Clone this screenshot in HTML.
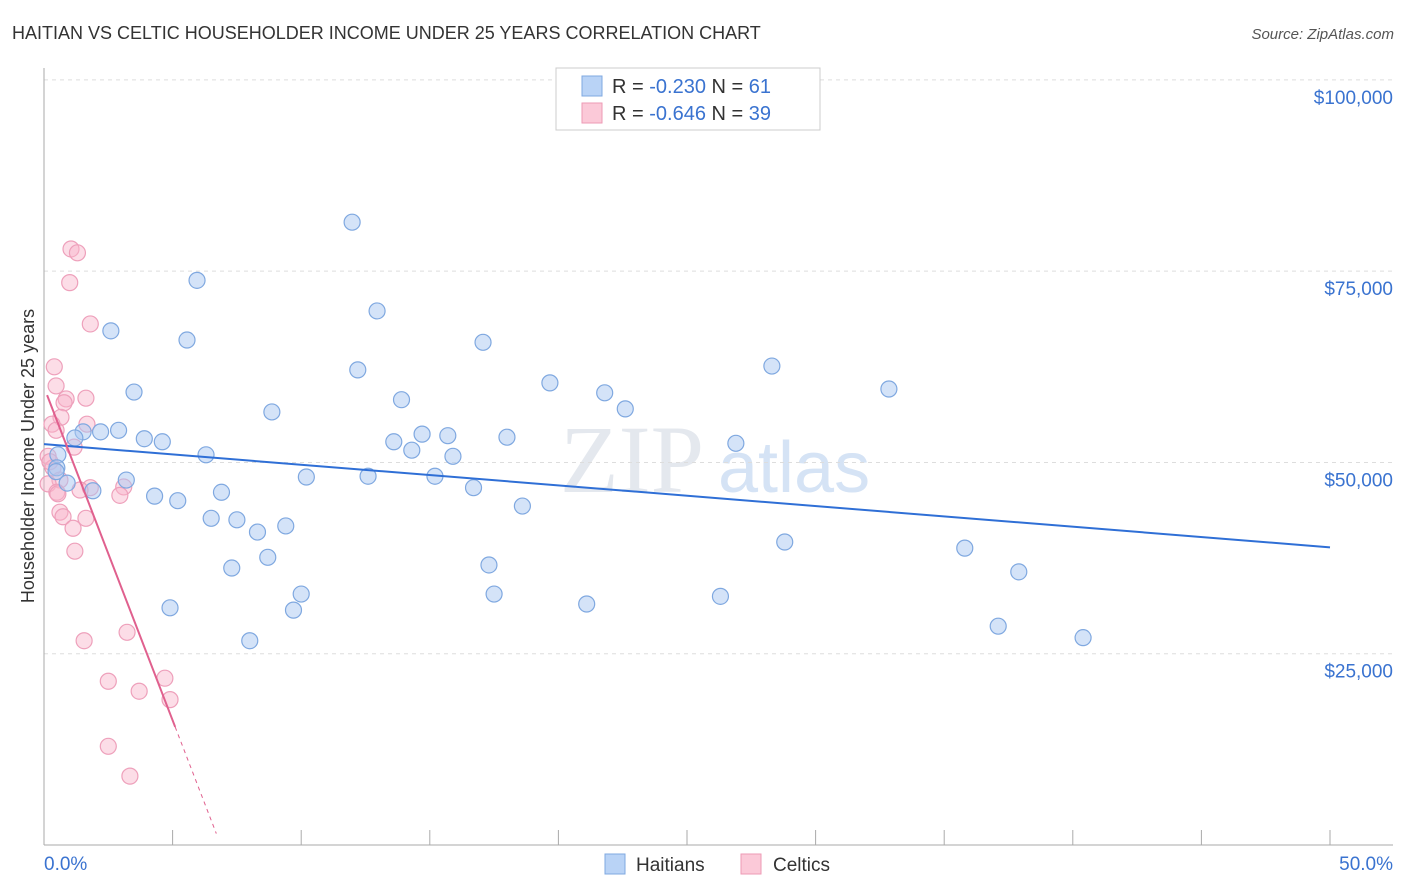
<!DOCTYPE html>
<html><head><meta charset="utf-8"><style>
body{margin:0;background:#fff;font-family:"Liberation Sans",sans-serif}
svg{display:block}
</style></head><body>
<svg id="c" width="1406" height="892">
<text x="12" y="39" font-size="18" fill="#333">HAITIAN VS CELTIC HOUSEHOLDER INCOME UNDER 25 YEARS CORRELATION CHART</text>
<text x="1394" y="39" font-size="15" fill="#555" font-style="italic" text-anchor="end">Source: ZipAtlas.com</text>
<text x="560" y="492" font-size="96" fill="#e4e8ee" font-family="Liberation Serif,serif">ZIP</text>
<text x="718" y="492" font-size="72" fill="#d5e3f5">atlas</text>
<g id="grid"></g><g id="axes"></g><g id="marks"></g>
<text transform="translate(34,456) rotate(-90)" font-size="18" fill="#333" text-anchor="middle">Householder Income Under 25 years</text>
<g>
<rect x="556" y="68" width="264" height="62" fill="#fff" stroke="#ccc"/>
<rect x="582" y="76" width="20" height="20" fill="#b9d3f6" stroke="#7fa8e0"/>
<text x="612" y="93" font-size="20" fill="#333">R = <tspan fill="#3a73d0">-0.230</tspan>   N =  <tspan fill="#3a73d0">61</tspan></text>
<rect x="582" y="103" width="20" height="20" fill="#fbc9d8" stroke="#ee9ab5"/>
<text x="612" y="120" font-size="20" fill="#333">R = <tspan fill="#3a73d0">-0.646</tspan>   N = <tspan fill="#3a73d0">39</tspan></text>
</g>
<g>
<rect x="605" y="854" width="20" height="20" fill="#b9d3f6" stroke="#7fa8e0"/>
<text x="636" y="871" font-size="19" fill="#333">Haitians</text>
<rect x="741" y="854" width="20" height="20" fill="#fbc9d8" stroke="#ee9ab5"/>
<text x="773" y="871" font-size="19" fill="#333">Celtics</text>
</g>
</svg>
<script>
const blueX=[11.98,5.95,12.95,2.6,5.56,17.07,28.3,12.2,19.67,32.85,3.5,21.8,13.9,22.6,8.86,1.52,2.2,2.9,1.2,3.9,4.6,13.6,14.7,15.7,18.0,14.3,15.9,26.9,6.3,0.54,0.5,0.47,10.2,12.6,15.2,3.2,0.9,1.9,16.7,6.9,4.3,5.2,18.6,6.5,7.5,8.3,9.4,28.8,35.8,8.7,7.3,17.3,37.9,10.0,17.5,26.3,21.1,4.9,9.7,37.1,40.4,8.0];
const blueY=[81.4,73.8,69.8,67.2,66.0,65.7,62.6,62.1,60.4,59.6,59.2,59.1,58.2,57.0,56.6,54.0,54.0,54.2,53.2,53.1,52.7,52.7,53.7,53.5,53.3,51.6,50.8,52.5,51.0,51.0,49.3,48.8,48.1,48.2,48.2,47.7,47.3,46.3,46.7,46.1,45.6,45.0,44.3,42.7,42.5,40.9,41.7,39.6,38.8,37.6,36.2,36.6,35.7,32.8,32.8,32.5,31.5,31.0,30.7,28.6,27.1,26.7];
const pinkX=[1.05,1.3,1.0,1.8,0.4,0.47,0.86,1.63,0.78,0.66,1.67,0.31,0.47,1.17,0.16,0.35,0.62,0.16,1.8,0.5,3.1,2.95,1.4,0.62,0.74,1.63,1.13,1.2,1.56,3.23,2.5,4.7,3.7,4.9,2.5,3.34,0.23,0.54];
const pinkY=[77.9,77.4,73.5,68.1,62.5,60.0,58.3,58.4,57.8,55.9,55.0,55.0,54.2,52.0,50.8,49.3,47.7,47.2,46.7,46.1,46.8,45.7,46.4,43.5,42.9,42.7,41.4,38.4,26.7,27.8,21.4,21.8,20.1,19.0,12.9,9.0,50.1,45.9];
const yTicks=[25,50,75,100];
const blueTrend=[52.4,38.9];
const pinkTrend={intercept:59.85,slope:-8.71,solidEnd:5.1,dashEnd:6.7};
const X=v=>44+v*25.72, Y=v=>845-v*1000/130.7;
const NS="http://www.w3.org/2000/svg";
function mk(t,a,p){const e=document.createElementNS(NS,t);for(const k in a)e.setAttribute(k,a[k]);p.appendChild(e);return e;}
const grid=document.getElementById('grid'),axes=document.getElementById('axes'),marks=document.getElementById('marks');
yTicks.forEach(t=>{
 const l=mk('line',{x1:44,x2:1393,y1:Y(t),y2:Y(t),stroke:'#ddd','stroke-dasharray':'4,4'},grid);
 
 
 const tx=mk('text',{x:1393,y:Y(t)+24,'font-size':19,fill:'#3a73d0','text-anchor':'end'},grid);
 tx.textContent='$'+(t*1000).toLocaleString('en-US');
 
 
});
const ax=mk('line',{x1:44,x2:1393,y1:845,y2:845,stroke:'#aaa'},axes);


const ay=mk('line',{x1:44,x2:44,y1:68,y2:845,stroke:'#aaa'},axes);


for(let i=0;i<=50;i+=5){const t=mk('line',{x1:X(i),x2:X(i),y1:830,y2:845,stroke:'#aaa'},axes);
 
 }
[[0,'0.0%','start',44],[50,'50.0%','end',1393]].forEach(d=>{const t=mk('text',{x:d[3],y:870,'font-size':19,fill:'#3a73d0','text-anchor':d[2]},axes);t.textContent=d[1];
 
 });
pinkX.forEach((x,i)=>{const c=mk('circle',{cx:X(x),cy:Y(pinkY[i]),r:8,fill:'rgba(248,180,202,0.45)',stroke:'#eea0bb','stroke-width':1.2},marks);
 
 });
blueX.forEach((x,i)=>{const c=mk('circle',{cx:X(x),cy:Y(blueY[i]),r:8,fill:'rgba(170,200,242,0.5)',stroke:'#7fa8e0','stroke-width':1.2},marks);
 
 });
const bl=mk('line',{x1:X(0),y1:Y(blueTrend[0]),x2:X(50),y2:Y(blueTrend[1]),stroke:'#2f6fd6','stroke-width':2},marks);


const py=x=>pinkTrend.intercept+pinkTrend.slope*x;
const pl=mk('line',{x1:X(0.12),y1:Y(py(0.12)),x2:X(pinkTrend.solidEnd),y2:Y(py(pinkTrend.solidEnd)),stroke:'#e0608e','stroke-width':2},marks);


const pd=mk('line',{x1:X(pinkTrend.solidEnd),y1:Y(py(pinkTrend.solidEnd)),x2:X(pinkTrend.dashEnd),y2:Y(py(pinkTrend.dashEnd)),stroke:'#e0608e','stroke-width':1,'stroke-dasharray':'4,4'},marks);


</script>
</body></html>
